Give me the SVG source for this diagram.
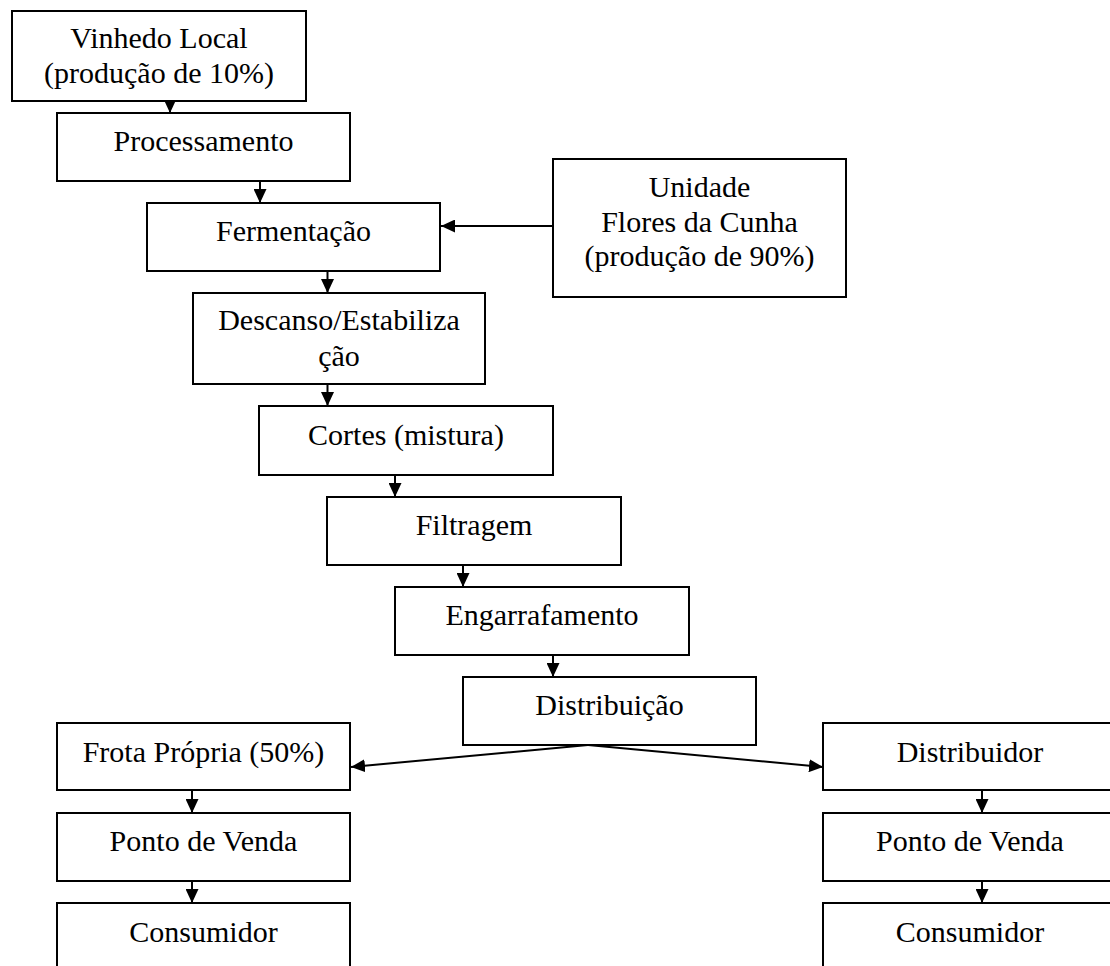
<svg xmlns="http://www.w3.org/2000/svg" width="1110" height="966" viewBox="0 0 1110 966">
<style>
.box{fill:#fff;stroke:#000;stroke-width:2}
.t{font-family:"Liberation Serif","Times New Roman",serif;font-size:30px;fill:#000;text-anchor:middle}
.c{stroke:#000;stroke-width:2;fill:none;marker-end:url(#ah)}
</style>
<defs>
<marker id="ah" markerUnits="userSpaceOnUse" markerWidth="14" markerHeight="13" refX="14" refY="6.5" orient="auto">
<path d="M0,0 L14,6.5 L0,13 z" fill="#000"/>
</marker>
</defs>
<rect width="1110" height="966" fill="#fff"/>
<g id="connectors">
<line class="c" x1="170" y1="101" x2="170" y2="113"/>
<line class="c" x1="260" y1="181" x2="260" y2="203"/>
<line class="c" x1="553" y1="226" x2="441" y2="226"/>
<line class="c" x1="327.5" y1="271" x2="327.5" y2="293"/>
<line class="c" x1="327.5" y1="384" x2="327.5" y2="406"/>
<line class="c" x1="395" y1="475" x2="395" y2="497"/>
<line class="c" x1="463" y1="565" x2="463" y2="587"/>
<line class="c" x1="553" y1="655" x2="553" y2="677"/>
<line class="c" x1="588" y1="745" x2="351" y2="767"/>
<line class="c" x1="588" y1="745" x2="823" y2="767"/>
<line class="c" x1="192" y1="790" x2="192" y2="813"/>
<line class="c" x1="192" y1="881" x2="192" y2="903"/>
<line class="c" x1="982" y1="790" x2="982" y2="813"/>
<line class="c" x1="982" y1="881" x2="982" y2="903"/>
</g>
<g id="vinhedo"><rect class="box" x="12" y="11" width="294" height="90"/><text class="t" x="159" y="48">Vinhedo Local</text><text class="t" x="159" y="83">(produção de 10%)</text></g>
<g id="processamento"><rect class="box" x="57" y="113" width="293" height="68"/><text class="t" x="203.5" y="151">Processamento</text></g>
<g id="fermentacao"><rect class="box" x="147" y="203" width="293" height="68"/><text class="t" x="293.5" y="241">Fermentação</text></g>
<g id="unidade"><rect class="box" x="553" y="159" width="293" height="138"/><text class="t" x="699.5" y="197">Unidade</text><text class="t" x="699.5" y="232">Flores da Cunha</text><text class="t" x="699.5" y="266">(produção de 90%)</text></g>
<g id="descanso"><rect class="box" x="193" y="293" width="292" height="91"/><text class="t" x="339" y="330">Descanso/Estabiliza</text><text class="t" x="339" y="366">ção</text></g>
<g id="cortes"><rect class="box" x="259" y="406" width="294" height="69"/><text class="t" x="406" y="445">Cortes (mistura)</text></g>
<g id="filtragem"><rect class="box" x="327" y="497" width="294" height="68"/><text class="t" x="474" y="535">Filtragem</text></g>
<g id="engarrafamento"><rect class="box" x="395" y="587" width="294" height="68"/><text class="t" x="542" y="625">Engarrafamento</text></g>
<g id="distribuicao"><rect class="box" x="463" y="677" width="293" height="68"/><text class="t" x="609.5" y="715">Distribuição</text></g>
<g id="frota"><rect class="box" x="57" y="723" width="293" height="67"/><text class="t" x="203.5" y="762">Frota Própria (50%)</text></g>
<g id="ponto1"><rect class="box" x="57" y="813" width="293" height="68"/><text class="t" x="203.5" y="851">Ponto de Venda</text></g>
<g id="consumidor1"><rect class="box" x="57" y="903" width="293" height="90"/><text class="t" x="203.5" y="942">Consumidor</text></g>
<g id="distribuidor"><rect class="box" x="823" y="723" width="294" height="67"/><text class="t" x="970" y="762">Distribuidor</text></g>
<g id="ponto2"><rect class="box" x="823" y="813" width="294" height="68"/><text class="t" x="970" y="851">Ponto de Venda</text></g>
<g id="consumidor2"><rect class="box" x="823" y="903" width="294" height="90"/><text class="t" x="970" y="942">Consumidor</text></g>
</svg>
